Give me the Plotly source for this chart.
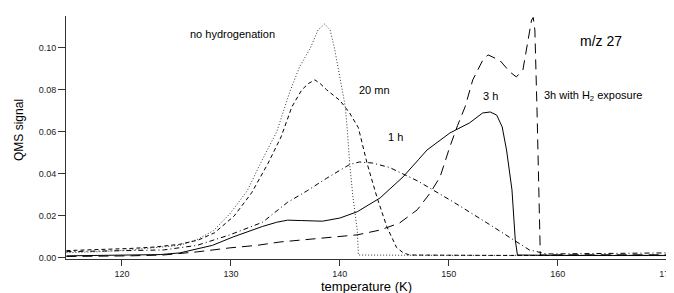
import plotly.graph_objects as go

# ---- data (temperature in K, QMS signal) ----
nohyd_T = [114.9, 118.0, 120.7, 123.0, 125.3, 127.0, 128.4, 129.9, 131.5, 132.9, 134.2, 135.4, 136.3,
           137.3, 138.0, 138.6, 139.1, 139.5, 140.0, 140.5, 140.7, 140.9, 141.2, 141.6, 141.7,
           145.0, 150.0, 155.0, 160.0, 165.0, 170.0]
nohyd_S = [0.0025, 0.0030, 0.0038, 0.0048, 0.0060, 0.0090, 0.0130, 0.0210, 0.0320, 0.0470, 0.0600,
           0.0790, 0.0910, 0.1000, 0.1086, 0.1114, 0.1086, 0.1000, 0.0860, 0.0720, 0.0600, 0.0450,
           0.0290, 0.0130, 0.0014, 0.0012, 0.0012, 0.0012, 0.0011, 0.0011, 0.0011]

mn20_T = [114.9, 118.0, 120.7, 123.0, 125.3, 127.0, 128.5, 130.3, 131.9, 133.4, 134.6, 135.6, 136.5,
          137.1, 137.7, 138.2, 138.8, 140.0, 140.9, 141.7, 142.5, 143.4, 144.3, 145.2, 145.8, 146.4,
          150.0, 155.0, 160.0, 165.0, 170.0]
mn20_S = [0.0035, 0.0040, 0.0045, 0.0052, 0.0065, 0.0085, 0.0120, 0.0200, 0.0310, 0.0450, 0.0576,
          0.0720, 0.0800, 0.0830, 0.0848, 0.0830, 0.0800, 0.0750, 0.0690, 0.0620, 0.0450, 0.0290,
          0.0150, 0.0050, 0.0025, 0.0014, 0.0012, 0.0012, 0.0012, 0.0012, 0.0012]

h1_T = [114.9, 118.0, 121.0, 123.8, 126.9, 129.9, 132.9, 135.2, 137.0, 138.8, 140.9, 141.8, 143.0,
        144.6, 147.2, 150.4, 153.5, 155.9, 157.4, 159.0, 162.0, 166.0, 170.0]
h1_S = [0.0030, 0.0032, 0.0035, 0.0038, 0.0060, 0.0110, 0.0170, 0.0265, 0.0320, 0.0380, 0.0445,
        0.0457, 0.0452, 0.0430, 0.0365, 0.0267, 0.0167, 0.0086, 0.0038, 0.0019, 0.0020, 0.0022, 0.0024]

h3_T = [114.9, 118.0, 120.7, 123.5, 125.3, 127.2, 128.3, 130.2, 132.9, 134.2, 135.2, 136.5, 138.4,
        140.0, 141.6, 143.7, 145.8, 147.2, 148.0, 150.1, 151.9, 153.1, 153.8, 154.4, 154.9, 155.3,
        155.8, 156.1, 156.3, 160.0, 165.0, 170.0]
h3_S = [0.0010, 0.0012, 0.0014, 0.0016, 0.0024, 0.0048, 0.0060, 0.0100, 0.0150, 0.0170, 0.0180,
        0.0178, 0.0175, 0.0190, 0.0220, 0.0286, 0.0386, 0.0467, 0.0514, 0.0595, 0.0643, 0.0690,
        0.0695, 0.0680, 0.0624, 0.0514, 0.0324, 0.0086, 0.0014, 0.0012, 0.0012, 0.0012]

h3H2_T = [114.9, 118.0, 120.7, 123.8, 126.9, 129.9, 132.4, 134.5, 138.4, 141.6, 143.7, 145.5, 147.1,
          148.3, 149.2, 150.1, 150.8, 151.5, 152.2, 153.1, 153.6, 154.7, 155.6, 156.2, 156.8, 157.2,
          157.6, 157.75, 157.9, 158.1, 158.3, 158.4, 160.0, 165.0, 170.0]
h3H2_S = [0.0007, 0.0008, 0.0010, 0.0014, 0.0029, 0.0048, 0.0060, 0.0076, 0.0095, 0.0110, 0.0133,
          0.0167, 0.0229, 0.0310, 0.0386, 0.0530, 0.0630, 0.0720, 0.0848, 0.0940, 0.0967, 0.0940,
          0.0886, 0.0862, 0.0895, 0.1024, 0.1133, 0.1145, 0.1086, 0.0700, 0.0150, 0.0014, 0.0015,
          0.0015, 0.0015]

x_ticks = [120, 130, 140, 150, 160, 170]
y_ticks = [0.00, 0.02, 0.04, 0.06, 0.08, 0.10]
y_ticktext = ["0.00", "0.02", "0.04", "0.06", "0.08", "0.10"]

FONT = "Liberation Sans, Arial, sans-serif"

fig = go.Figure()
series = [
    (nohyd_T, nohyd_S, "1px,2px", "#333"),
    (mn20_T, mn20_S, "4px,3px", "black"),
    (h1_T, h1_S, "5px,3px,1px,3px", "black"),
    (h3_T, h3_S, "solid", "black"),
    (h3H2_T, h3H2_S, "10px,6px", "black"),
]
for xs, ys, dash, col in series:
    fig.add_trace(go.Scatter(x=xs, y=ys, mode="lines",
                             line=dict(color=col, width=1, dash=dash),
                             showlegend=False, hoverinfo="skip"))

ann_font = dict(family=FONT, size=11, color="black")
annotations = [
    dict(x=130.14, y=0.1067, text="no hydrogenation", xanchor="center"),
    dict(x=143.2, y=0.080, text="20 mn", xanchor="center"),
    dict(x=145.1, y=0.0576, text="1 h", xanchor="center"),
    dict(x=153.85, y=0.0771, text="3 h", xanchor="center"),
    dict(x=158.53, y=0.0771, text="3h with H<sub>2</sub> exposure", xanchor="left"),
]
for a in annotations:
    fig.add_annotation(xref="x", yref="y", showarrow=False, yanchor="middle",
                       font=ann_font, **a)
fig.add_annotation(xref="x", yref="y", x=163.94, y=0.1033, text="m/z 27", showarrow=False,
                   xanchor="center", yanchor="middle", font=dict(family=FONT, size=14, color="black"))
# axis titles
fig.add_annotation(xref="paper", yref="paper", x=0.5008, y=-0.115, text="temperature (K)",
                   showarrow=False, xanchor="center", yanchor="middle",
                   font=dict(family=FONT, size=13, color="black"))
fig.add_annotation(xref="paper", yref="paper", x=-0.0782, y=0.531, text="QMS signal",
                   showarrow=False, xanchor="center", yanchor="middle", textangle=-90,
                   font=dict(family=FONT, size=12, color="black"))

# page body has an 8px margin, so the figure is sized/offset to compensate
fig.update_layout(
    width=666, height=285,
    margin=dict(l=58, r=7, t=8, b=34),
    paper_bgcolor="white", plot_bgcolor="white",
    font=dict(family=FONT, color="black"),
    xaxis=dict(range=[114.86, 170.03], tickvals=x_ticks, ticks="outside", ticklen=6,
               tickcolor="#333", showline=True, linecolor="#333", linewidth=1,
               showgrid=False, zeroline=False, tickfont=dict(size=9, color="#222"),
               ticklabeloverflow="allow", automargin=False),
    yaxis=dict(range=[-0.0005, 0.1152], tickvals=y_ticks, ticktext=y_ticktext,
               ticks="outside", ticklen=7, tickcolor="#333", showline=True,
               linecolor="#333", linewidth=1, showgrid=False, zeroline=False,
               tickfont=dict(size=9, color="#222"), automargin=False),
)

fig.write_html("out.html")
